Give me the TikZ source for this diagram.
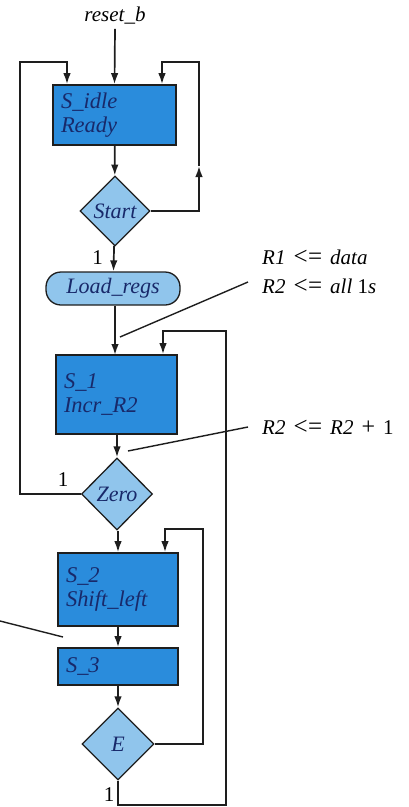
\documentclass[tikz,border=0pt]{standalone}
\usepackage{fontspec}
\setmainfont{Liberation Serif}
\usetikzlibrary{shapes.geometric,arrows.meta}
\definecolor{boxblue}{HTML}{2A8CDC}
\definecolor{diablue}{HTML}{90C5EC}
\definecolor{navy}{HTML}{18296A}
\definecolor{lineclr}{HTML}{1E1E1E}
\newcommand{\lteq}{\hspace{8pt}{\fontsize{25}{23}\selectfont <\kern0.5pt=}\hspace{8pt}}
\newcommand{\plusop}{\hspace{8pt}{\fontsize{24}{23}\selectfont +}\hspace{8pt}}
\tikzset{
  statebox/.style={draw=lineclr,line width=1.6pt,fill=boxblue,text=navy,inner sep=8pt,align=left,
    font=\fontsize{22.5}{23.5}\selectfont\itshape},
  decbox/.style={diamond,draw=lineclr,line width=1.3pt,fill=diablue,text=navy,inner sep=0pt,
    font=\fontsize{22}{23}\selectfont\itshape},
  condbox/.style={draw=lineclr,line width=1.3pt,fill=diablue,text=navy,rounded corners=15pt,
    font=\fontsize{22}{23}\selectfont\itshape,inner sep=0pt},
  flow/.style={line width=1.7pt,draw=lineclr},
  arr/.style={flow,-{Latex[length=11pt,width=7.5pt]}},
  txt/.style={font=\fontsize{21}{23}\selectfont,text=black,inner sep=0pt},
  note/.style={line width=1.4pt,draw=lineclr}
}
\begin{document}
\begin{tikzpicture}[x=1pt,y=-1pt]
\useasboundingbox (0,0) rectangle (408,807);
% nodes
\node[txt,font=\fontsize{21}{23}\selectfont\itshape] (reset) at (115,16) {reset\_b};
\node[statebox,minimum width=123pt,minimum height=60pt,text width=107pt] (idle) at (114.5,115) {S\_idle\\Ready};
\node[decbox,minimum width=70pt,minimum height=70pt] (start) at (115,211) {Start};
\node[condbox,minimum width=134pt,minimum height=33pt] (load) at (113,288.5) {Load\_regs};
\node[statebox,minimum width=121pt,minimum height=79pt,text width=105pt] (s1) at (116.5,394.5) {S\_1\\Incr\_R2};
\node[decbox,minimum width=71pt,minimum height=72pt] (zero) at (117,494) {Zero};
\node[statebox,minimum width=120pt,minimum height=73pt,text width=104pt] (s2) at (118,589.5) {S\_2\\Shift\_left};
\node[statebox,minimum width=120pt,minimum height=37pt,text width=104pt] (s3) at (118,666.5) {S\_3};
\node[decbox,minimum width=72pt,minimum height=72pt] (e) at (118,744) {E};
% labels
\node[txt,anchor=east] (one1) at (103,258) {1};
\node[txt] (one2) at (63,480) {1};
\node[txt] (one3) at (109,795) {1};
\node[txt,anchor=west] (n1) at (262,257) {\textit{R1}\lteq\textit{data}};
\node[txt,anchor=west] (n2) at (262,286) {\textit{R2}\lteq\textit{all} 1\textit{s}};
\node[txt,anchor=west] (n3) at (262,427) {\textit{R2}\lteq\textit{R2}\plusop 1};
% coordinates
\coordinate (tl) at (67,62);
\coordinate (tr) at (162,62);
\coordinate (lc) at (20,62);
\coordinate (lb) at (20,494);
\coordinate (rc) at (199,62);
\coordinate (rb) at (199,211);
\coordinate (rm) at (199,166);
\coordinate (s1in) at (163,331);
\coordinate (bigr) at (226,331);
\coordinate (bigb) at (226,805);
\coordinate (eb) at (118,805);
\coordinate (s2in) at (165,529);
\coordinate (er) at (203,529);
\coordinate (erb) at (203,744);
\coordinate (a1) at (248,282);
\coordinate (a2) at (120,337);
\coordinate (b1) at (248,427);
\coordinate (b2) at (128,451);
\coordinate (c1) at (0,621);
\coordinate (c2) at (63,637);
% main flow
\draw[arr] (reset.south) ++(0,4) -- (idle.north);
\draw[arr] (idle) -- (start);
\draw[arr] (start) -- (load);
\draw[arr] (load.south -| 115,0) -- (115,355);
\draw[arr] (s1.south -| zero) -- (zero.north);
\draw[arr] (zero.south -| s2) -- (s2.north);
\draw[arr] (s2) -- (s3);
\draw[arr] (s3) -- (e);
% loops
\draw[arr] (start.east) -- (rb) -- (rm);
\draw[arr] (rm) -- (rc) -- (tr) -- (tr |- idle.north);
\draw[arr] (zero.west) -- (lb) -- (lc) -- (tl) -- (tl |- idle.north);
\draw[arr] (e.east) -- (erb) -- (er) -- (s2in) -- (s2in |- s2.north);
\draw[arr] (e.south) -- (eb) -- (bigb) -- (bigr) -- (s1in) -- (s1in |- s1.north);
% annotation lines
\draw[note] (a1) -- (a2);
\draw[note] (b1) -- (b2);
\draw[note] (c1) -- (c2);
\end{tikzpicture}
\end{document}
